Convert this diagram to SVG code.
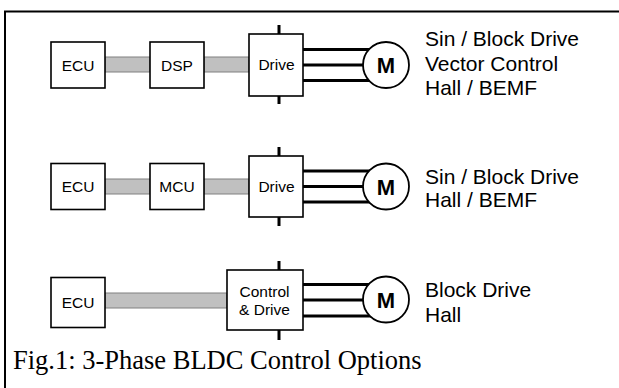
<svg xmlns="http://www.w3.org/2000/svg" width="619" height="388" viewBox="0 0 619 388">
<style>
.box{fill:#fff;stroke:#000;stroke-width:1.6}
.bus{fill:#c0c0c0;stroke:#808080;stroke-width:1}
.ph{stroke:#000;stroke-width:3;fill:none}
.tick{stroke:#000;stroke-width:3}
.mot{fill:#fff;stroke:#000;stroke-width:1.8}
.lbl{font-family:"Liberation Sans",Arial,sans-serif;font-size:15.5px;fill:#000;text-anchor:middle}
.m{font-family:"Liberation Sans",Arial,sans-serif;font-size:22px;font-weight:bold;fill:#000;text-anchor:middle}
.desc{font-family:"Liberation Sans",Arial,sans-serif;font-size:21px;fill:#000}
.cap{font-family:"Liberation Serif","Times New Roman",serif;font-size:26.5px;fill:#000}
</style>
<rect width="619" height="388" fill="#fff"/>
<g id="frame">
<path d="M5,388 V11.5 H619" fill="none" stroke="#000" stroke-width="2"/>
</g>
<g id="connectors">
<rect class="bus" x="105" y="57" width="45" height="15"/>
<rect class="bus" x="204" y="57" width="45" height="15"/>
<rect class="bus" x="105" y="179" width="45" height="15"/>
<rect class="bus" x="204" y="179" width="45" height="15"/>
<rect class="bus" x="105" y="293" width="122" height="15"/>
<path class="ph" d="M302,49.5 H380 M302,65 H380 M302,80.5 H380"/>
<path class="ph" d="M302,171 H380 M302,186.5 H380 M302,202 H380"/>
<path class="ph" d="M302,284.5 H380 M302,300 H380 M302,316 H380"/>
<path class="tick" d="M279,25 V36 M279,94 V104"/>
<path class="tick" d="M279,147 V158 M279,215 V226"/>
<path class="tick" d="M279,261 V272 M279,328 V340"/>
</g>
<g id="ecu1"><rect class="box" x="51" y="42" width="54" height="46"/><text class="lbl" x="78" y="70.5">ECU</text></g>
<g id="dsp"><rect class="box" x="150" y="42" width="54" height="46"/><text class="lbl" x="177" y="70.5">DSP</text></g>
<g id="drive1"><rect class="box" x="249" y="34" width="54" height="62"/><text class="lbl" x="276.5" y="69.5">Drive</text></g>
<g id="motor1"><circle class="mot" cx="386" cy="65" r="23"/><text class="m" x="386" y="73">M</text></g>
<g id="desc1"><text class="desc" x="425" y="45.5">Sin / Block Drive</text><text class="desc" x="425" y="70.5">Vector Control</text><text class="desc" x="425" y="94.5">Hall / BEMF</text></g>

<g id="ecu2"><rect class="box" x="51" y="163.5" width="54" height="46"/><text class="lbl" x="78" y="192">ECU</text></g>
<g id="mcu"><rect class="box" x="150" y="163.5" width="54" height="46"/><text class="lbl" x="177" y="192">MCU</text></g>
<g id="drive2"><rect class="box" x="249" y="156" width="54" height="61"/><text class="lbl" x="276.5" y="191.5">Drive</text></g>
<g id="motor2"><circle class="mot" cx="386" cy="186.5" r="23"/><text class="m" x="386" y="194.5">M</text></g>
<g id="desc2"><text class="desc" x="425" y="183.5">Sin / Block Drive</text><text class="desc" x="425" y="207">Hall / BEMF</text></g>

<g id="ecu3"><rect class="box" x="51" y="277.5" width="54" height="50"/><text class="lbl" x="78" y="307.5">ECU</text></g>
<g id="ctrldrive"><rect class="box" x="227" y="270" width="76" height="60"/><text class="lbl" x="264.5" y="296.5">Control</text><text class="lbl" x="264.5" y="314.5">&amp; Drive</text></g>
<g id="motor3"><circle class="mot" cx="386" cy="299.5" r="23"/><text class="m" x="386" y="307.5">M</text></g>
<g id="desc3"><text class="desc" x="425" y="297">Block Drive</text><text class="desc" x="425" y="321.5">Hall</text></g>

<g id="caption"><text class="cap" x="13" y="368.5">Fig.1: 3-Phase BLDC Control Options</text></g>
</svg>
